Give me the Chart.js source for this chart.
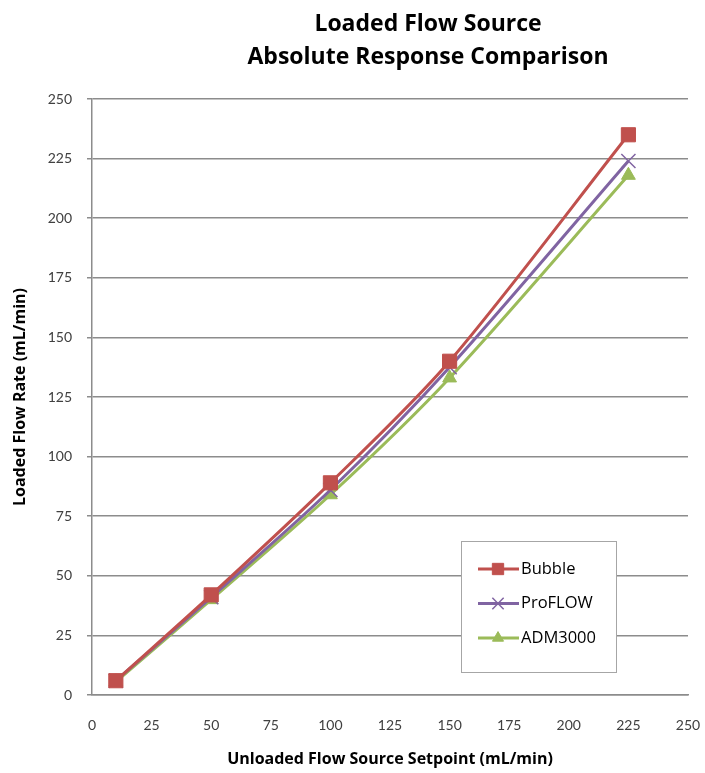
<!DOCTYPE html>
<html>
<head>
<meta charset="utf-8">
<script src="https://cdn.jsdelivr.net/npm/chart.js@4/dist/chart.umd.min.js"></script>
<style>
  html, body { margin:0; padding:0; background:#fff; }
  #wrap { width:705px; height:773px; position:relative; }
</style>
</head>
<body>
<div id="wrap"><canvas id="c" width="705" height="773"></canvas></div>
<script>
// ── DATA ──────────────────────────────────────────────────────────────────────
const SETPOINTS = [10, 50, 100, 150, 225];
const BUBBLE    = [6, 42, 89, 140, 235];
const PROFLOW   = [6, 41, 86, 137.5, 224];
const ADM3000   = [5.5, 40, 84, 133, 218];
const TICKS     = [0, 25, 50, 75, 100, 125, 150, 175, 200, 225, 250];
const TITLE     = ['Loaded Flow Source', 'Absolute Response Comparison'];

const FONT  = 'Lato, "Open Sans", sans-serif';
const BFONT = '"Open Sans", Lato, sans-serif';
const GRID  = '#8c8c8c';

const pts = ys => SETPOINTS.map((x, i) => ({ x, y: ys[i] }));

function series(label, ys, color, style, r) {
  return {
    label, data: pts(ys),
    borderColor: color, backgroundColor: color,
    pointStyle: style, pointRadius: r, pointHoverRadius: r,
    pointBackgroundColor: color, pointBorderColor: color,
    pointBorderWidth: style === 'crossRot' ? 1.5 : 1,
    borderWidth: 3, tension: 0.3, fill: false
  };
}

// ── PLUGINS: title + boxed legend ─────────────────────────────────────────────
const titlePlug = {
  id: 'titlePlug',
  afterDraw(chart) {
    const ctx = chart.ctx;
    ctx.save();
    ctx.fillStyle = '#000';
    ctx.font = 'bold 23px ' + BFONT;
    ctx.textAlign = 'center';
    ctx.textBaseline = 'middle';
    ctx.fillText(TITLE[0], 428, 24);
    ctx.fillText(TITLE[1], 428, 57);
    ctx.restore();
  }
};

const legendPlug = {
  id: 'legendPlug',
  afterDraw(chart) {
    const ctx = chart.ctx;
    const bx = 461, by = 541, bw = 155, bh = 131;
    ctx.save();
    ctx.fillStyle = '#fff';
    ctx.fillRect(bx, by, bw, bh);
    ctx.strokeStyle = '#a6a6a6';
    ctx.lineWidth = 1;
    ctx.strokeRect(bx + 0.5, by + 0.5, bw, bh);
    chart.data.datasets.forEach((ds, i) => {
      const y = 569 + i * 34.5;
      ctx.strokeStyle = ds.borderColor;
      ctx.lineWidth = 3;
      ctx.beginPath(); ctx.moveTo(478, y); ctx.lineTo(519, y); ctx.stroke();
      // drawPoint uses whatever fill/stroke is on the context
      ctx.fillStyle = ds.borderColor;
      ctx.strokeStyle = ds.borderColor;
      ctx.lineWidth = ds.pointBorderWidth;
      Chart.helpers.drawPoint(ctx, {
        pointStyle: ds.pointStyle, radius: ds.pointRadius * 0.8,
        borderWidth: ds.pointBorderWidth, rotation: 0
      }, 498, y);
      ctx.fillStyle = '#000';
      ctx.font = '16.5px ' + BFONT;
      ctx.textAlign = 'left';
      ctx.textBaseline = 'middle';
      ctx.fillText(ds.label, 521, y);
    });
    ctx.restore();
  }
};

// ── CHART ─────────────────────────────────────────────────────────────────────
new Chart(document.getElementById('c'), {
  type: 'line',
  data: {
    datasets: [
      series('Bubble',  BUBBLE,  '#C0504D', 'rect',     10),
      series('ProFLOW', PROFLOW, '#8064A2', 'crossRot', 10),
      series('ADM3000', ADM3000, '#9BBB59', 'triangle', 8)
    ]
  },
  options: {
    responsive: false,
    animation: false,
    layout: { padding: { top: 99, right: 17, left: 0, bottom: 0 } },
    plugins: {
      legend: { display: false },
      title: { display: false },
      tooltip: { enabled: false }
    },
    scales: {
      x: {
        type: 'linear', min: 0, max: 250,
        afterBuildTicks: s => { s.ticks = TICKS.map(v => ({ value: v })); },
        afterFit: s => { s.height = 78; s.paddingLeft = 0; s.paddingRight = 0; },
        grid: { display: false, drawTicks: false },
        border: { display: true, color: GRID, width: 1.5 },
        ticks: { color: '#404040', font: { family: FONT, size: 14 }, padding: 22, maxRotation: 0 },
        title: {
          display: true, text: 'Unloaded Flow Source Setpoint (mL/min)',
          color: '#000', font: { family: BFONT, size: 16, weight: 'bold' }
        }
      },
      y: {
        type: 'linear', min: 0, max: 250,
        afterBuildTicks: s => { s.ticks = TICKS.map(v => ({ value: v })); },
        afterFit: s => { s.width = 92; s.paddingTop = 0; s.paddingBottom = 0; },
        grid: { color: GRID, lineWidth: 1.5, tickLength: 5 },
        border: { display: true, color: GRID, width: 1.5 },
        ticks: { color: '#404040', font: { family: FONT, size: 14 }, padding: 15 },
        title: {
          display: true, text: 'Loaded Flow Rate (mL/min)',
          color: '#000', font: { family: BFONT, size: 16, weight: 'bold' },
          padding: { top: 11, bottom: 0 }
        }
      }
    }
  },
  plugins: [titlePlug, legendPlug]
});
</script>
</body>
</html>
